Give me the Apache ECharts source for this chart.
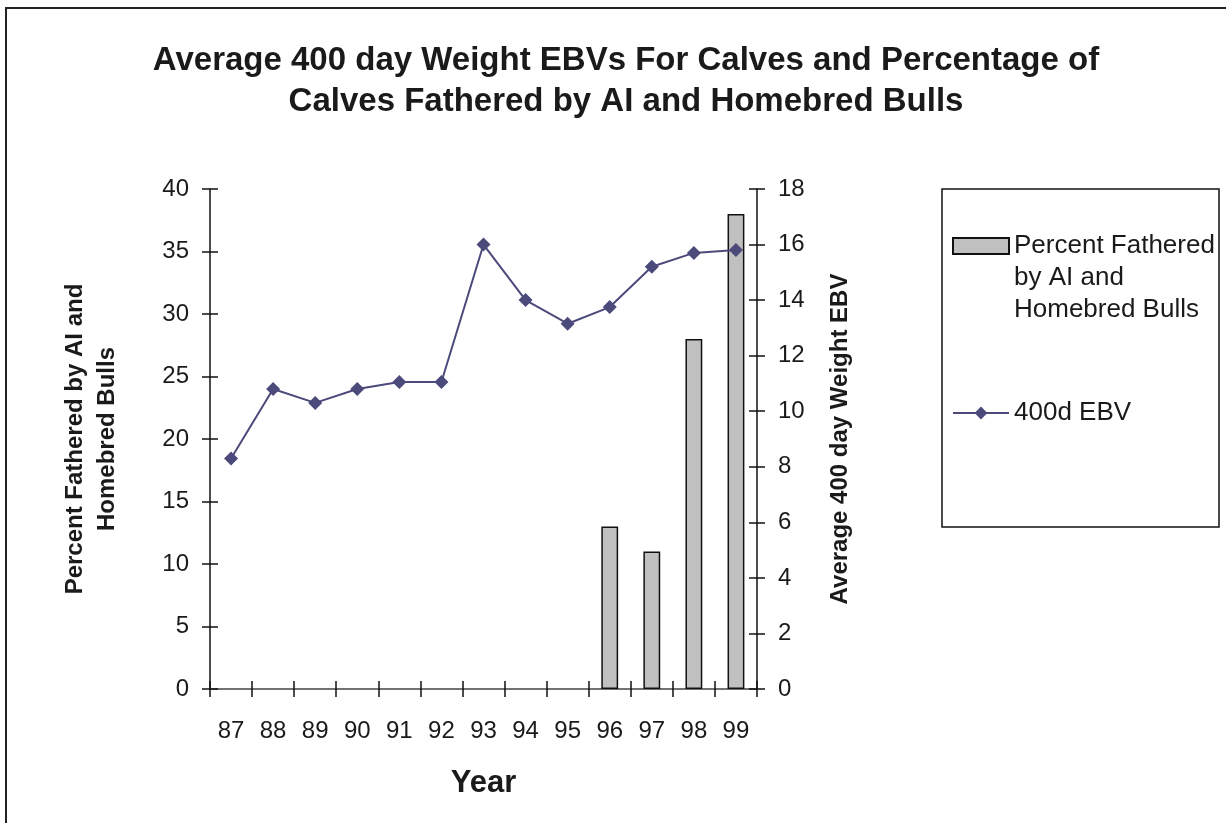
<!DOCTYPE html>
<html>
<head>
<meta charset="utf-8">
<script src="https://cdn.jsdelivr.net/npm/echarts@6/dist/echarts.min.js"></script>
<style>
  html, body { margin: 0; padding: 0; background: #ffffff; }
  #chart { width: 1226px; height: 823px; }
</style>
</head>
<body>
<div id="chart"></div>
<script>
// Calving years (19xx)
const years = ['87', '88', '89', '90', '91', '92', '93', '94', '95', '96', '97', '98', '99'];
// Percentage of calves fathered by AI and homebred bulls (no records before 96)
const percentFathered = [null, null, null, null, null, null, null, null, null, 13, 11, 28, 38];
// Average 400 day weight EBV of calves
const ebv400 = [8.3, 10.8, 10.3, 10.8, 11.05, 11.05, 16.0, 14.0, 13.15, 13.75, 15.2, 15.7, 15.8];
// Axis scales
const pctTicks = { min: 0, max: 40, interval: 5 };
const ebvTicks = { min: 0, max: 18, interval: 2 };

const FONT = "'Liberation Sans', Arial, sans-serif";
const barName = 'Percent Fathered by AI and Homebred Bulls';
const lineName = '400d EBV';

const chart = echarts.init(document.getElementById('chart'), null, { renderer: 'canvas' });

const grid = { left: 210, right: 469, top: 189, bottom: 134 };

// Plain companion axis used to draw the inward half of each tick mark
function innerTickY(pos, scale) {
  return {
    type: 'value', position: pos, min: scale.min, max: scale.max, interval: scale.interval,
    axisLine: { show: false }, splitLine: { show: false }, axisLabel: { show: false },
    axisTick: { show: true, inside: true, length: 8, lineStyle: { color: '#111', width: 1.5 } }
  };
}

const option = {
  backgroundColor: '#ffffff',
  animation: false,
  textStyle: { fontFamily: FONT },
  title: {
    text: 'Average 400 day Weight EBVs For Calves and Percentage of\nCalves Fathered by AI and Homebred Bulls',
    left: 626,
    top: 40,
    padding: 0,
    textAlign: 'center',
    textStyle: { fontFamily: FONT, fontSize: 33, fontWeight: 'bold', color: '#1a1a1a', lineHeight: 41 }
  },
  grid: grid,
  legend: [
    {
      data: [{ name: barName, icon: 'rect' }],
      left: 952, top: 166, padding: 0,
      itemWidth: 56, itemHeight: 16,
      // two empty leading lines keep the first text line level with the swatch
      formatter: () => '\n\nPercent Fathered\nby AI and\nHomebred Bulls',
      textStyle: { fontFamily: FONT, fontSize: 26, color: '#1a1a1a', lineHeight: 32 }
    },
    {
      data: [lineName],
      left: 952, top: 400, padding: 0,
      itemWidth: 56, itemHeight: 16,
      textStyle: { fontFamily: FONT, fontSize: 26, color: '#1a1a1a' }
    }
  ],
  xAxis: [
    {
      type: 'category', data: years, position: 'bottom', boundaryGap: true,
      name: 'Year', nameLocation: 'middle', nameGap: 79,
      nameTextStyle: { fontFamily: FONT, fontSize: 31, fontWeight: 'bold', color: '#1a1a1a' },
      axisLine: { show: true, lineStyle: { color: '#111', width: 1.5 } },
      axisTick: { show: true, inside: false, length: 8, alignWithLabel: false, lineStyle: { color: '#111', width: 1.5 } },
      axisLabel: { fontFamily: FONT, fontSize: 24, color: '#1a1a1a', margin: 30 },
      splitLine: { show: false }
    },
    {
      type: 'category', data: years, position: 'bottom', boundaryGap: true,
      axisLine: { show: false }, axisLabel: { show: false }, splitLine: { show: false },
      axisTick: { show: true, inside: true, length: 8, lineStyle: { color: '#111', width: 1.5 } }
    },
    {
      type: 'category', data: years, position: 'top', boundaryGap: true,
      axisLine: { show: true, lineStyle: { color: '#808080', width: 1.5 } },
      axisTick: { show: false }, axisLabel: { show: false }, splitLine: { show: false }
    }
  ],
  yAxis: [
    {
      type: 'value', position: 'left', min: pctTicks.min, max: pctTicks.max, interval: pctTicks.interval,
      name: 'Percent Fathered by AI and\nHomebred Bulls', nameLocation: 'middle', nameRotate: 90, nameGap: 87,
      nameTextStyle: { fontFamily: FONT, fontSize: 24, fontWeight: 'bold', color: '#1a1a1a', lineHeight: 32 },
      axisLine: { show: true, lineStyle: { color: '#111', width: 1.5 } },
      axisTick: { show: true, inside: false, length: 8, lineStyle: { color: '#111', width: 1.5 } },
      axisLabel: { fontFamily: FONT, fontSize: 24, color: '#1a1a1a', margin: 21 },
      splitLine: { show: false }
    },
    {
      type: 'value', position: 'right', min: ebvTicks.min, max: ebvTicks.max, interval: ebvTicks.interval,
      name: 'Average 400 day Weight EBV', nameLocation: 'middle', nameRotate: 90, nameGap: 71,
      nameTextStyle: { fontFamily: FONT, fontSize: 24, fontWeight: 'bold', color: '#1a1a1a' },
      axisLine: { show: true, lineStyle: { color: '#111', width: 1.5 } },
      axisTick: { show: true, inside: false, length: 8, lineStyle: { color: '#111', width: 1.5 } },
      axisLabel: { fontFamily: FONT, fontSize: 24, color: '#1a1a1a', margin: 21 },
      splitLine: { show: false }
    },
    innerTickY('left', pctTicks),
    innerTickY('right', ebvTicks)
  ],
  series: [
    {
      name: barName,
      type: 'bar',
      xAxisIndex: 0, yAxisIndex: 0,
      data: percentFathered,
      barWidth: '40%',
      itemStyle: { color: '#c0c0c0', borderColor: '#111', borderWidth: 1.5 }
    },
    {
      name: lineName,
      type: 'line',
      xAxisIndex: 0, yAxisIndex: 1,
      data: ebv400,
      symbol: 'diamond', symbolSize: 14,
      lineStyle: { color: '#4b4a7a', width: 2 },
      itemStyle: { color: '#4b4a7a' }
    }
  ],
  graphic: [
    {
      type: 'rect', z: -1, silent: true,
      shape: { x: 6, y: 8, width: 1240, height: 840 },
      style: { fill: 'none', stroke: '#222', lineWidth: 2 }
    },
    {
      type: 'rect', silent: true,
      shape: { x: 942, y: 189, width: 277, height: 338 },
      style: { fill: 'none', stroke: '#111', lineWidth: 1.5 }
    }
  ]
};

chart.setOption(option);
</script>
</body>
</html>
